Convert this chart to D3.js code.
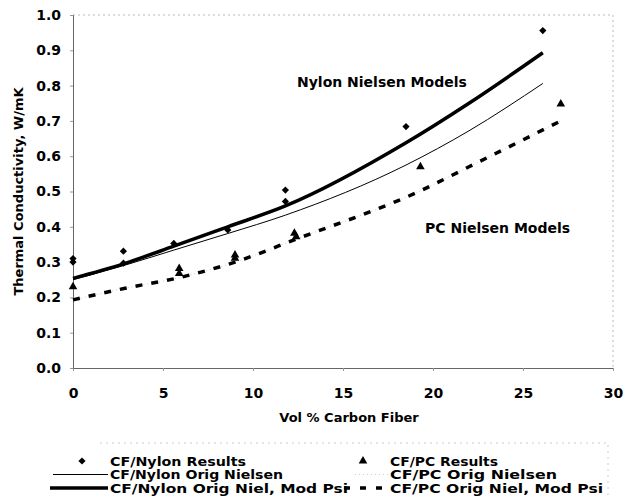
<!DOCTYPE html>
<html>
<head>
<meta charset="utf-8">
<script src="https://cdn.jsdelivr.net/npm/d3@7"></script>
<style>
  body { margin: 0; background: #fff; }
  text { font-family: "DejaVu Sans", sans-serif; font-weight: bold; fill: #000; }
</style>
</head>
<body>
<div class="chart"></div>
<script>
// measured points
var nylonX = [0, 0, 2.8, 2.8, 5.6, 8.6, 11.8, 11.8, 18.5, 26.1];
var nylonY = [0.31, 0.30, 0.331, 0.297, 0.353, 0.391, 0.504, 0.472, 0.684, 0.956];
var pcX = [0, 5.9, 5.9, 9.0, 9.0, 12.3, 12.4, 19.3, 27.1];
var pcY = [0.23, 0.282, 0.268, 0.320, 0.311, 0.382, 0.372, 0.570, 0.748];

// model curves
var nylonModelX = [0, 2.8, 5.6, 8.6, 11.8, 18.5, 22, 26.1];
var nylonOrig = [0.25, 0.29, 0.334, 0.381, 0.433, 0.575, 0.672, 0.806];
var nylonModPsi = [0.254, 0.295, 0.345, 0.40, 0.459, 0.638, 0.75, 0.893];
var pcModelX = [0, 2.9, 5.9, 9.0, 12.4, 19.3, 22, 27.1];
var pcOrig = [0.193, 0.226, 0.256, 0.30, 0.365, 0.502, 0.57, 0.70];
var pcModPsi = [0.193, 0.226, 0.256, 0.30, 0.365, 0.502, 0.57, 0.70];

var xTicks = [0, 5, 10, 15, 20, 25, 30];
var yTicks = [0, 0.1, 0.2, 0.3, 0.4, 0.5, 0.6, 0.7, 0.8, 0.9, 1.0];

var legendLeft = ["CF/Nylon Results", "CF/Nylon Orig Nielsen", "CF/Nylon Orig Niel, Mod Psi"];
var legendRight = ["CF/PC Results", "CF/PC Orig Nielsen", "CF/PC Orig Niel, Mod Psi"];

var svgWidth = 627;
var svgHeight = 498;
var margin = { top: 15, left: 73, right: 14, bottom: 130 };
var width = svgWidth - margin.left - margin.right;
var height = svgHeight - margin.top - margin.bottom;

var svg = d3.select(".chart")
            .append("svg")
            .attr("width", svgWidth)
            .attr("height", svgHeight);

var chartGroup = svg.append("g")
                    .attr("transform", `translate(${margin.left}, ${margin.top})`);

var x = d3.scaleLinear().domain([0, 30]).range([0, width]);
var y = d3.scaleLinear().domain([0, 1]).range([height, 0]);

// faint frame on top and right
chartGroup.append("path")
          .attr("d", `M0,0H${width}V${height}`)
          .attr("fill", "none")
          .attr("stroke", "#bbb")
          .attr("stroke-dasharray", "2,3");

// axes
var bottomAxis = d3.axisBottom(x).tickValues(xTicks).tickSize(3).tickFormat(d3.format("d"));
var leftAxis = d3.axisLeft(y).tickValues(yTicks).tickSize(3).tickFormat(d3.format(".1f"));

var gx = chartGroup.append("g")
                   .attr("transform", `translate(0, ${height})`)
                   .call(bottomAxis);
gx.selectAll("text").attr("dy", 0).attr("y", 30).style("font-size", "14px");

var gy = chartGroup.append("g").call(leftAxis);
gy.selectAll("text").attr("x", -12).style("font-size", "14px");

[gx, gy].forEach(function(g) {
    g.select(".domain").attr("stroke", "#666");
    g.selectAll(".tick line").attr("stroke", "#999");
});

// axis titles
svg.append("text")
   .attr("transform", `translate(23, ${margin.top + height / 2}) rotate(-90)`)
   .attr("text-anchor", "middle")
   .style("font-size", "13px")
   .text("Thermal Conductivity, W/mK");

svg.append("text")
   .attr("x", 349)
   .attr("y", 422)
   .attr("text-anchor", "middle")
   .style("font-size", "13px")
   .text("Vol % Carbon Fiber");

// curves
var line = d3.line()
             .x(d => x(d[0]))
             .y(d => y(d[1]))
             .curve(d3.curveMonotoneX);

var series = [
    { xs: pcModelX, ys: pcOrig, w: 1, dash: "1,3", color: "#ccc" },
    { xs: pcModelX, ys: pcModPsi, w: 3.5, dash: "7,9", color: "#000" },
    { xs: nylonModelX, ys: nylonOrig, w: 1, dash: null, color: "#000" },
    { xs: nylonModelX, ys: nylonModPsi, w: 3.5, dash: null, color: "#000" }
];

series.forEach(function(s) {
    chartGroup.append("path")
              .datum(d3.zip(s.xs, s.ys))
              .attr("d", line)
              .attr("fill", "none")
              .attr("stroke", s.color)
              .attr("stroke-width", s.w)
              .attr("stroke-dasharray", s.dash);
});

// markers
var diamond = d3.symbol().type(d3.symbolSquare).size(26);
var triangle = d3.symbol().type(d3.symbolTriangle).size(32);

chartGroup.selectAll(".nylon")
          .data(d3.zip(nylonX, nylonY))
          .enter()
          .append("path")
          .attr("d", diamond)
          .attr("transform", d => `translate(${x(d[0])}, ${y(d[1])}) rotate(45)`)
          .attr("fill", "#000");

chartGroup.selectAll(".pc")
          .data(d3.zip(pcX, pcY))
          .enter()
          .append("path")
          .attr("d", triangle)
          .attr("transform", d => `translate(${x(d[0])}, ${y(d[1])})`)
          .attr("fill", "#000");

// in-plot labels
chartGroup.append("text")
          .attr("x", 297 - margin.left)
          .attr("y", 87 - margin.top)
          .style("font-size", "14px")
          .text("Nylon Nielsen Models");

chartGroup.append("text")
          .attr("x", 425 - margin.left)
          .attr("y", 233 - margin.top)
          .style("font-size", "14px")
          .text("PC Nielsen Models");

// legend
var legend = svg.append("g");
legend.append("path")
      .attr("d", "M100,443H608V498")
      .attr("fill", "none")
      .attr("stroke", "#ccc")
      .attr("stroke-dasharray", "2,4");

var rows = [461, 474.5, 488];
var leftWidths = [136, 173, 238];
var rightWidths = [108, 167, 213];

legend.append("path").attr("d", diamond)
      .attr("transform", `translate(82, ${rows[0]}) rotate(45)`).attr("fill", "#000");
legend.append("line").attr("x1", 53).attr("x2", 108).attr("y1", rows[1]).attr("y2", rows[1])
      .attr("stroke", "#000").attr("stroke-width", 1);
legend.append("line").attr("x1", 50).attr("x2", 108).attr("y1", rows[2]).attr("y2", rows[2])
      .attr("stroke", "#000").attr("stroke-width", 3.5);

legend.append("path").attr("d", triangle)
      .attr("transform", `translate(363, ${rows[0]})`).attr("fill", "#000");
legend.append("line").attr("x1", 355).attr("x2", 388).attr("y1", rows[1]).attr("y2", rows[1])
      .attr("stroke", "#ccc").attr("stroke-width", 1).attr("stroke-dasharray", "1,3");
legend.append("line").attr("x1", 344).attr("x2", 388).attr("y1", rows[2]).attr("y2", rows[2])
      .attr("stroke", "#000").attr("stroke-width", 3.5).attr("stroke-dasharray", "6,10");

legendLeft.forEach(function(t, i) {
    legend.append("text").attr("x", 110).attr("y", rows[i] + 4.5)
          .attr("textLength", leftWidths[i]).attr("lengthAdjust", "spacingAndGlyphs")
          .style("font-size", "12px").text(t);
});
legendRight.forEach(function(t, i) {
    legend.append("text").attr("x", 390).attr("y", rows[i] + 4.5)
          .attr("textLength", rightWidths[i]).attr("lengthAdjust", "spacingAndGlyphs")
          .style("font-size", "12px").text(t);
});
</script>
</body>
</html>
